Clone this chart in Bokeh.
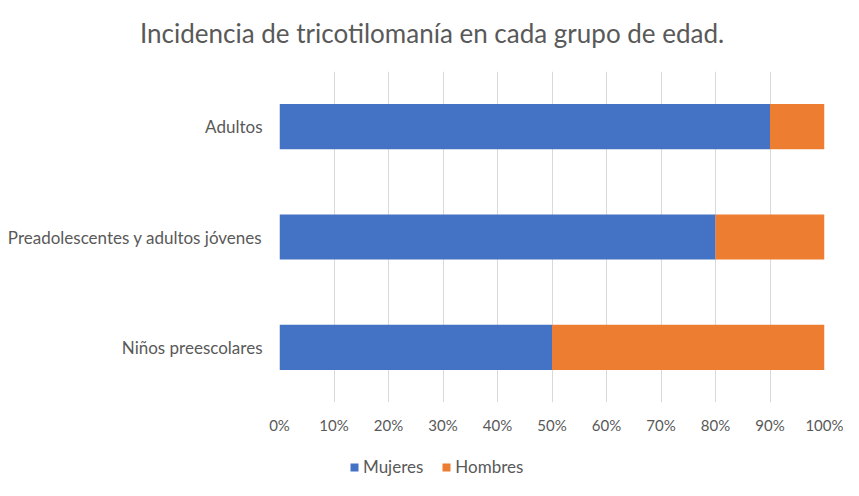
from bokeh.plotting import figure
from bokeh.layouts import column
from bokeh.models import (FactorRange, Range1d, NumeralTickFormatter, FixedTicker,
                          Legend, LegendItem, ColumnDataSource, Div)
from bokeh.embed import file_html
from bokeh.resources import INLINE

title_text = "Incidencia de tricotilomanía en cada grupo de edad."
categories = ["Niños preescolares", "Preadolescentes y adultos jóvenes", "Adultos"]
series_names = ["Mujeres", "Hombres"]
mujeres = [0.5, 0.8, 0.9]
hombres = [0.5, 0.2, 0.1]
x_ticks = [0.0, 0.1, 0.2, 0.3, 0.4, 0.5, 0.6, 0.7, 0.8, 0.9, 1.0]
colors = ["#4472C4", "#ED7D31"]

FONT = "Lato"
TXT = "#595959"

W = 843
H0, H1, H2 = 71, 375, 34
left = 279
right = W - 824
bottom = 44

# title block
head = Div(text=('<div style="font-family:Lato;font-size:26px;line-height:30px;'
                 'color:#595959;text-align:left;padding-top:18px;padding-left:140px;'
                 'white-space:nowrap;">' + title_text + '</div>'),
           width=W, height=H0, margin=0)

p = figure(width=W, height=H1, output_backend="svg", toolbar_location=None,
           y_range=FactorRange(factors=categories, range_padding=0),
           x_range=Range1d(0, 1),
           min_border_left=left, min_border_right=right,
           min_border_top=0, min_border_bottom=bottom)
p.title.text = ""
p.background_fill_color = "white"
p.border_fill_color = "white"
p.outline_line_color = None

src = ColumnDataSource(dict(cat=categories, Mujeres=mujeres, Hombres=hombres))
rs = p.hbar_stack(series_names, y="cat", height=0.41, color=colors, source=src,
                  line_color=None)

p.ygrid.grid_line_color = None
p.xgrid.grid_line_color = "#D9D9D9"
p.xgrid.grid_line_width = 1
p.xaxis.ticker = FixedTicker(ticks=x_ticks)
p.xaxis.formatter = NumeralTickFormatter(format="0%")

for ax in (p.xaxis[0], p.yaxis[0]):
    ax.axis_line_color = None
    ax.major_tick_line_color = None
    ax.minor_tick_line_color = None
    ax.major_tick_out = 0
    ax.major_tick_in = 0
    ax.major_label_text_font = FONT
    ax.major_label_text_color = TXT
p.yaxis.major_label_text_font_size = "17px"
p.xaxis.major_label_text_font_size = "15px"
p.yaxis.major_label_standoff = 17
p.xaxis.major_label_standoff = 13

# legend strip below the chart (its frame is aligned with the chart's frame)
lg = figure(width=W, height=H2, output_backend="svg", toolbar_location=None,
            x_range=Range1d(0, 1), y_range=FactorRange(factors=categories),
            x_axis_type=None, y_axis_type=None,
            min_border_left=0, min_border_right=0, min_border_top=0, min_border_bottom=0)
lg.outline_line_color = None
lg.xgrid.visible = False
lg.ygrid.visible = False
lg.background_fill_color = "white"
lg.border_fill_color = "white"
# zero-height copies of the series: invisible in the strip, they only supply legend keys
swatches = lg.hbar_stack(series_names, y="cat", height=0, color=colors, source=src,
                         line_color=None)

legend = Legend(items=[LegendItem(label=n, renderers=[r]) for n, r in zip(series_names, swatches)],
                orientation="horizontal", location=(70, 3),
                glyph_width=10, glyph_height=10, label_standoff=4, spacing=18,
                padding=0, margin=0, border_line_color=None, background_fill_alpha=0,
                label_text_font=FONT, label_text_font_size="17px", label_text_color=TXT)
lg.add_layout(legend, "center")

layout = column(head, p, lg, spacing=0)
open("out.html", "w").write(file_html(layout, INLINE))
